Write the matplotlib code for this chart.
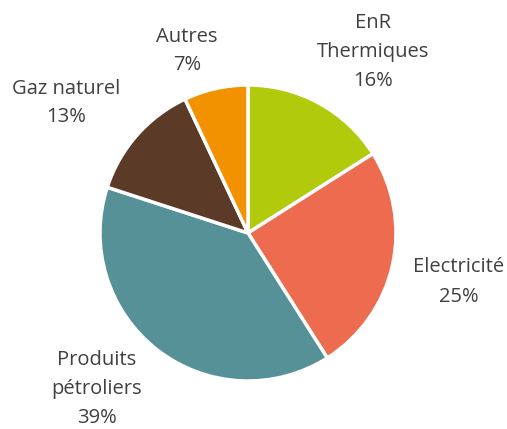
import matplotlib
matplotlib.use('Agg')
import matplotlib.pyplot as plt

labels = ['EnR\nThermiques', 'Electricité', 'Produits\npétroliers', 'Gaz naturel', 'Autres']
shares = [16, 25, 39, 13, 7]
colors = ['#b2ca0c', '#ed6b4e', '#559196', '#5c3a28', '#f39200']
# label centres in pixel coordinates (x, y from top)
label_pos = [(373, 52), (459, 282), (97, 389), (66, 103), (187, 51)]

W, H = 507, 429
fig = plt.figure(figsize=(W / 100, H / 100), dpi=100)
ax = fig.add_axes([0, 0, 1, 1])

ax.pie(shares, colors=colors, startangle=90, counterclock=False,
       center=(248, H - 233), radius=148,
       wedgeprops=dict(edgecolor='white', linewidth=2.5))

# pie() resets the limits, so set them afterwards
ax.set_xlim(0, W)
ax.set_ylim(0, H)
ax.set_aspect('equal')
ax.axis('off')

for lab, val, (x, y) in zip(labels, shares, label_pos):
    ax.text(x, H - y, '%s\n%d%%' % (lab, val), ha='center', va='center',
            fontsize=14.5, family='Open Sans', color='#404040', linespacing=1.6)

fig.savefig('out.png', dpi=100)
